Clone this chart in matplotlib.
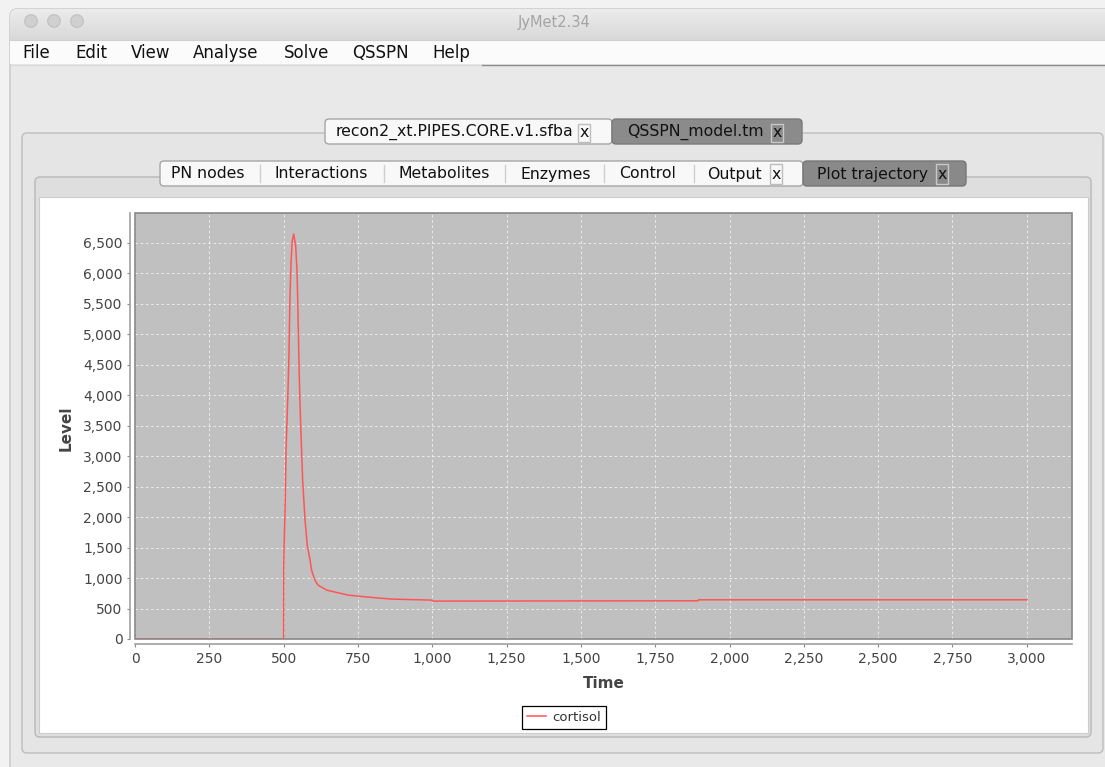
import matplotlib
matplotlib.use('Agg')
import numpy as np
import matplotlib.pyplot as plt
from matplotlib.patches import FancyBboxPatch, Rectangle, Circle
from matplotlib.ticker import FuncFormatter, FixedLocator

# ---------------- data ----------------
time_vals = [0, 500, 500.3, 501.5, 505.5, 508, 513.6, 515.6, 518, 521,
             525, 529, 534, 540.5, 545, 548, 551, 554, 558, 564,
             572, 580, 589, 594, 605, 616, 645, 678, 717, 796,
             863, 998, 1001, 1894, 1895, 3000]
cortisol = [0, 0, 1150, 1480, 2275, 3093, 3911, 4239, 4680, 5548,
            6200, 6540, 6645, 6450, 6040, 5430, 4680, 4050, 3420, 2602,
            1948, 1520, 1290, 1129, 966, 884, 802, 764, 720, 682,
            655, 638, 622, 627, 643, 643]
series_label = "cortisol"
x_ticks = [0, 250, 500, 750, 1000, 1250, 1500, 1750, 2000, 2250, 2500, 2750, 3000]
y_ticks = [0, 500, 1000, 1500, 2000, 2500, 3000, 3500, 4000, 4500, 5000, 5500, 6000, 6500]
x_label = "Time"
y_label = "Level"
window_title = "JyMet2.34"
menu_items = ["File", "Edit", "View", "Analyse", "Solve", "QSSPN", "Help"]
file_tabs = ["recon2_xt.PIPES.CORE.v1.sfba", "QSSPN_model.tm"]
view_tabs = ["PN nodes", "Interactions", "Metabolites", "Enzymes", "Control", "Output", "Plot trajectory"]

plt.rcParams['font.family'] = ['DejaVu Sans']

W, H = 1105, 767
fig = plt.figure(figsize=(W / 100, H / 100), dpi=100)
fig.patch.set_facecolor('#f2f2f2')

bg = fig.add_axes([0, 0, 1, 1])
bg.set_xlim(0, W)
bg.set_ylim(H, 0)
bg.axis('off')


def rbox(x0, y0, x1, y1, fc, ec, r=4, lw=1.0, z=1):
    p = FancyBboxPatch((x0, y0), x1 - x0, y1 - y0,
                       boxstyle=f"round,pad=0,rounding_size={r}",
                       fc=fc, ec=ec, lw=lw, zorder=z)
    bg.add_patch(p)
    return p


def rect(x0, y0, x1, y1, fc, ec='none', lw=1.0, z=1):
    p = Rectangle((x0, y0), x1 - x0, y1 - y0, fc=fc, ec=ec, lw=lw, zorder=z)
    bg.add_patch(p)
    return p


# window body
win = rbox(10, 9, 1130, 800, '#e9e9e9', '#c6c6c6', r=7, z=1)
# title bar gradient
grad = np.linspace(0, 1, 64).reshape(-1, 1)
img = bg.imshow(grad, extent=(10, 1130, 40, 9), cmap=matplotlib.colors.LinearSegmentedColormap.from_list(
    'tb', ['#ececec', '#d8d8d8']), aspect='auto', zorder=2)
img.set_clip_path(win)
bg.set_xlim(0, W)
bg.set_ylim(H, 0)
for cx in [31, 54, 77]:
    bg.add_patch(Circle((cx, 21), 6.3, fc='#d0d0d0', ec='#c0c0c0', lw=0.8, zorder=3))
bg.text(554, 22, window_title, ha='center', va='center', fontsize=10.5, color='#a4a4a4', zorder=3)

# menu bar
rect(10, 40, W, 64, '#fbfbfb', z=3)
bg.plot([10, W], [40, 40], color='#d0d0d0', lw=0.8, zorder=4)
bg.plot([10, 482], [64.5, 64.5], color='#dadada', lw=1, zorder=4)
bg.plot([482, W], [64.5, 64.5], color='#8c8c8c', lw=1, zorder=4)
menu_x = [22, 75, 131, 193, 284, 352, 432]
for mx, s in zip(menu_x, menu_items):
    bg.text(mx, 52.5, s, ha='left', va='center', fontsize=12, color='#111111', zorder=5)

# outer (file) panel and inner (view) panel
rbox(22, 133, 1103, 753, '#e5e5e5', '#bdbdbd', r=5, z=3)
rbox(35, 177, 1091, 737, '#dedede', '#b8b8b8', r=5, z=4)
rect(39, 197, 1088, 733, 'white', '#cccccc', lw=0.8, z=5)

# file tabs
rbox(325, 119, 612, 144, '#f8f8f8', '#a6a6a6', r=4, z=6)
rbox(612, 119, 802, 144, '#8b8b8b', '#7a7a7a', r=4, z=6)
bg.text(336, 132, file_tabs[0], ha='left', va='center', fontsize=11.3, color='#111111', zorder=7)
rect(578, 124, 590, 142, '#f8f8f8', '#bdbdbd', z=7)
bg.text(584, 132.5, 'x', ha='center', va='center', fontsize=11.3, color='#111111', zorder=8)
bg.text(627, 132, file_tabs[1], ha='left', va='center', fontsize=11.3, color='#111111', zorder=7)
rect(771, 124, 783, 142, '#8b8b8b', '#c8c8c8', z=7)
bg.text(777, 132.5, 'x', ha='center', va='center', fontsize=11.3, color='#111111', zorder=8)

# view tabs
rbox(160, 161, 803, 186, '#f8f8f8', '#a6a6a6', r=4, z=6)
rbox(803, 161, 966, 186, '#898989', '#777777', r=4, z=6)
for sx in [259.5, 383.5, 504.5, 603.5, 693.5]:
    bg.plot([sx, sx], [165, 182], color='#cfcfcf', lw=1, zorder=7)
tab_x = [171, 275, 399, 521, 619, 707, 817]
for tx, s in zip(tab_x, view_tabs):
    bg.text(tx, 174, s, ha='left', va='center', fontsize=11.3, color='#111111', zorder=7)
rect(770, 164, 782, 184, '#f8f8f8', '#bdbdbd', z=7)
bg.text(776, 174.5, 'x', ha='center', va='center', fontsize=11.3, color='#111111', zorder=8)
rect(936, 164, 948, 184, '#898989', '#c8c8c8', z=7)
bg.text(942, 174.5, 'x', ha='center', va='center', fontsize=11.3, color='#111111', zorder=8)

# ---------------- chart ----------------
px0, px1, py0, py1 = 135, 1072, 213, 639
ax = fig.add_axes([px0 / W, 1 - py1 / H, (px1 - px0) / W, (py1 - py0) / H])
ax.set_facecolor('#c0c0c0')
ax.plot(time_vals, cortisol, color='#ff5555', lw=1.1, label=series_label, zorder=3)
ax.set_xlim(0, 3152)
ax.set_ylim(0, 6990)
ax.xaxis.set_major_locator(FixedLocator(x_ticks))
ax.yaxis.set_major_locator(FixedLocator(y_ticks))
fmt = FuncFormatter(lambda v, p: f"{v:,.0f}")
ax.xaxis.set_major_formatter(fmt)
ax.yaxis.set_major_formatter(fmt)
ax.grid(True, color='#f4f4f4', lw=0.75, ls=(0, (2.5, 2.5)), alpha=0.8)
ax.set_axisbelow(True)

for side in ['top', 'right']:
    ax.spines[side].set_visible(False)
for side in ['left', 'bottom']:
    ax.spines[side].set_position(('outward', 3.8))
    ax.spines[side].set_color('#a0a0a0')
    ax.spines[side].set_linewidth(1.2)
ax.add_patch(Rectangle((0, 0), 1, 1, transform=ax.transAxes, fill=False,
                       ec='#888888', lw=1.2, clip_on=False, zorder=5))
ax.tick_params(axis='both', direction='out', length=2.2, width=0.8, color='#888888',
               labelsize=10, labelcolor='#444444')
ax.tick_params(axis='x', pad=3.2)
ax.tick_params(axis='y', pad=3.0)

ax.set_xlabel(x_label, fontsize=11, fontweight='bold', color='#444444')
ax.xaxis.label.set_va('center')
ax.xaxis.set_label_coords(0.5, (py1 - 683) / (py1 - py0))
ax.set_ylabel(y_label, fontsize=11, fontweight='bold', color='#444444')
ax.yaxis.label.set_va('center')
ax.yaxis.set_label_coords((66 - px0) / (px1 - px0), 0.495)

leg = ax.legend(loc='center', bbox_to_anchor=(564 / W, 1 - 717.5 / H),
                bbox_transform=fig.transFigure, fontsize=9.5, frameon=True,
                fancybox=False, edgecolor='black', framealpha=1,
                borderpad=0.35, handlelength=1.45, handletextpad=0.5,
                borderaxespad=0)
leg.get_frame().set_linewidth(0.9)
for t in leg.get_texts():
    t.set_color('#333333')

fig.savefig('out.png', dpi=100, facecolor=fig.get_facecolor())
